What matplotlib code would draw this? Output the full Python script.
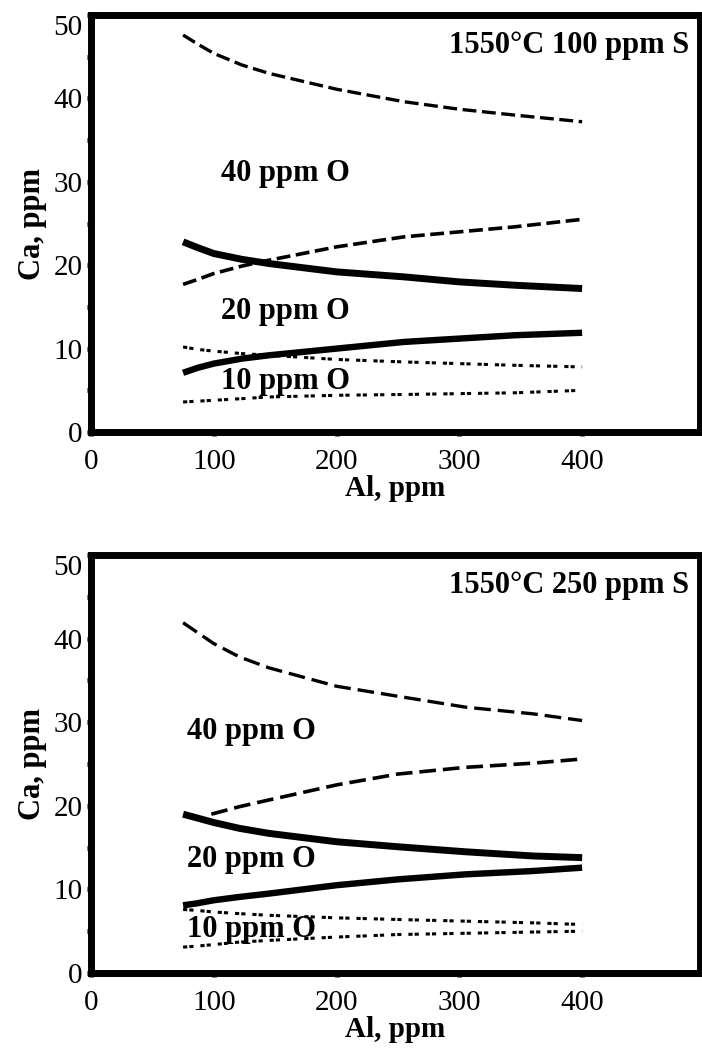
import matplotlib.pyplot as plt

plt.rcParams['font.family'] = ['Liberation Serif', 'DejaVu Serif']
plt.rcParams['lines.scale_dashes'] = False

# 1550 C, 100 ppm S
top_x = [75, 87, 100, 123, 145, 200, 255, 300, 345, 400]
top_o40_hi = [47.6, 46.5, 45.4, 44.0, 43.0, 41.1, 39.6, 38.7, 38.0, 37.2]
top_o40_lo = [17.7, 18.3, 19.0, 19.9, 20.6, 22.2, 23.4, 24.0, 24.6, 25.5]
top_o20_hi = [22.8, 22.1, 21.4, 20.7, 20.2, 19.2, 18.6, 18.0, 17.6, 17.2]
top_o20_lo = [7.1, 7.7, 8.2, 8.8, 9.2, 10.0, 10.8, 11.2, 11.6, 11.9]
top_o10_hi = [10.2, 9.9, 9.7, 9.4, 9.2, 8.7, 8.4, 8.2, 8.0, 7.8]
top_o10_lo = [3.6, 3.7, 3.8, 4.0, 4.2, 4.4, 4.5, 4.6, 4.7, 5.0]

# 1550 C, 250 ppm S
bot_x = [75, 85, 100, 121, 145, 200, 250, 305, 360, 400]
bot_o40_hi = [41.9, 40.9, 39.4, 37.8, 36.5, 34.3, 33.1, 31.8, 31.0, 30.2]
bot_o40_lo_x = [98, 121, 145, 200, 250, 305, 360, 400]
bot_o40_lo = [19.0, 19.9, 20.7, 22.5, 23.8, 24.6, 25.1, 25.6]
bot_o20_hi = [19.0, 18.6, 18.0, 17.3, 16.7, 15.7, 15.1, 14.5, 14.0, 13.8]
bot_o20_lo = [8.1, 8.3, 8.7, 9.1, 9.5, 10.5, 11.2, 11.8, 12.2, 12.6]
bot_o10_hi = [7.6, 7.5, 7.3, 7.1, 6.9, 6.6, 6.4, 6.2, 6.0, 5.8]
bot_o10_lo = [3.1, 3.2, 3.4, 3.7, 3.9, 4.3, 4.6, 4.75, 4.9, 5.0]

titles = ['1550°C 100 ppm S', '1550°C 250 ppm S']
o_labels = ['40 ppm O', '20 ppm O', '10 ppm O']
x_ticks = [0, 100, 200, 300, 400]
y_ticks = [0, 10, 20, 30, 40, 50]

panels = [
    dict(x40lo=top_x, o40=(top_o40_hi, top_o40_lo), o20=(top_o20_hi, top_o20_lo),
         o10=(top_o10_hi, top_o10_lo), x=top_x, lab_x=106, lab_y=[31.0, 14.4, 6.0],
         dash=(10, 4)),
    dict(x40lo=bot_o40_lo_x, o40=(bot_o40_hi, bot_o40_lo), o20=(bot_o20_hi, bot_o20_lo),
         o10=(bot_o10_hi, bot_o10_lo), x=bot_x, lab_x=78, lab_y=[28.9, 13.6, 5.2],
         dash=(12, 5)),
]

fig = plt.figure(figsize=(7.02, 10.59), dpi=100)
W, H = 702, 1059
boxes = [(91, 15, 700, 432), (91, 555, 700, 973)]  # left, top, right, bottom in px

for i, p in enumerate(panels):
    l, t, r, b = boxes[i]
    ax = fig.add_axes([l / W, (H - b) / H, (r - l) / W, (b - t) / H])

    ax.plot(p['x'], p['o40'][0], color='black', lw=2.4, dashes=p['dash'])
    ax.plot(p['x40lo'], p['o40'][1], color='black', lw=2.6, dashes=p['dash'])
    ax.plot(p['x'], p['o20'][0], color='black', lw=5.0, solid_capstyle='butt')
    ax.plot(p['x'], p['o20'][1], color='black', lw=4.6, solid_capstyle='butt')
    ax.plot(p['x'], p['o10'][0], color='black', lw=2.2, dashes=(3, 1.5, 3, 5))
    ax.plot(p['x'], p['o10'][1], color='black', lw=2.2, dashes=(3, 1.5, 3, 5))

    for lab, yy in zip(o_labels, p['lab_y']):
        ax.text(p['lab_x'], yy, lab, fontsize=22, fontweight='bold',
                ha='left', va='center')
    ax.text(487, 46.4, titles[i], fontsize=22, fontweight='bold',
            ha='right', va='center')

    ax.set_xlim(0, 496)
    ax.set_ylim(0, 50)
    ax.set_xticks(x_ticks)
    ax.set_yticks(y_ticks)
    ax.set_yticks([5, 15, 25, 35, 45], minor=True)
    ax.tick_params(which='both', direction='out', length=3, width=3.5,
                   labelsize=21)
    ax.tick_params(axis='x', pad=9)
    ax.tick_params(axis='y', pad=3)
    for s in ax.spines.values():
        s.set_linewidth(5)
    ax.get_yticklabels()[-1].set_va('top')

    ax.set_xlabel('Al, ppm', fontsize=21, fontweight='bold', labelpad=0)
    ax.set_ylabel('Ca, ppm', fontsize=22, fontweight='bold', labelpad=5)

fig.savefig('out.png', dpi=100)
